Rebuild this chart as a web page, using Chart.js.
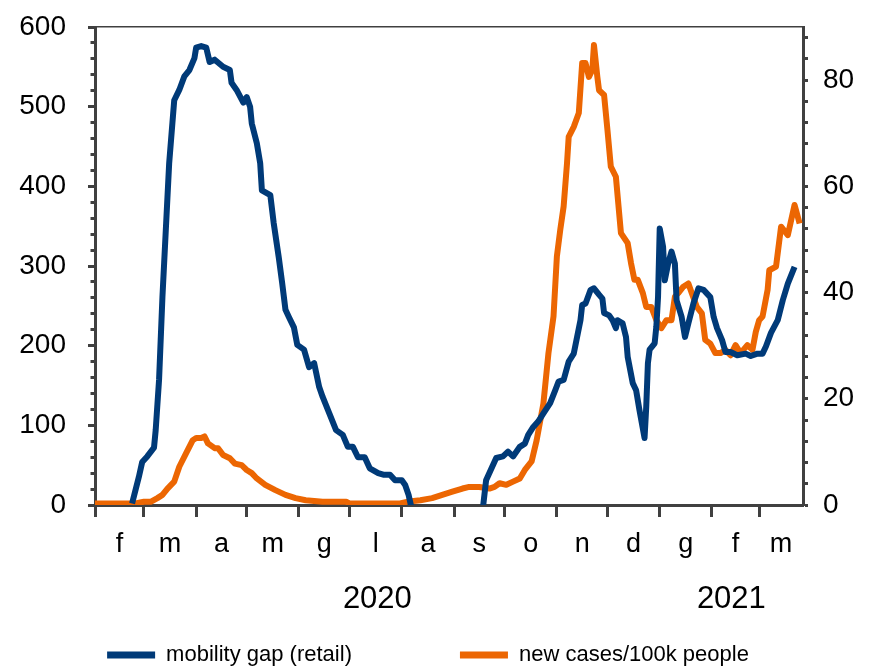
<!DOCTYPE html>
<html>
<head>
<meta charset="utf-8">
<title>Mobility gap and new cases</title>
<script src="https://cdn.jsdelivr.net/npm/chart.js@4/dist/chart.umd.min.js"></script>
<style>
  html, body { margin: 0; padding: 0; background: #ffffff; }
  #wrap { width: 871px; height: 671px; }
</style>
</head>
<body>
<div id="wrap"><canvas id="chart" width="871" height="671"></canvas></div>
<script>
// Day numbers are counted from 1 February 2020 (day 0).
const monthStarts = [0, 29, 60, 90, 121, 151, 182, 213, 243, 274, 304, 335, 366, 394];
const monthLabels = ['f', 'm', 'a', 'm', 'g', 'l', 'a', 's', 'o', 'n', 'd', 'g', 'f', 'm'];
const yearStarts = [0, 335];
const yearLabels = ['2020', '2021'];
const lastDay = 420;

const leftTicks = [0, 100, 200, 300, 400, 500, 600];
const rightTickLabels = [0, 20, 40, 60, 80];

// Mobility gap (retail), left axis. A null day breaks the line while the gap is below zero.
const mobilityDays = [
  22, 26, 28, 31, 35, 36, 38, 40, 42, 44, 47, 50, 53, 56, 59, 60, 63, 66, 68, 71,
  76, 80, 81, 84, 88, 90, 92, 93, 96, 98, 99, 104, 106, 109, 111, 113, 115, 118, 120, 124,
  127, 130, 133, 135, 139, 143, 147, 150, 153, 156, 160, 163, 168, 171, 175, 178, 182, 184, 186, 188,
  210,
  230, 232, 238, 242, 245, 248, 252, 255, 257, 260, 263, 266, 270, 273, 275, 278, 281, 284, 286, 288,
  289, 291, 294, 296, 299, 301, 302, 305, 307, 309, 310, 313, 315, 316, 319, 321, 323, 326, 327, 328,
  329, 332, 333, 334, 335, 337, 338, 340, 342, 344, 345, 348, 350, 352, 355, 358, 361, 365, 367, 369,
  372, 374, 377, 381, 386, 389, 393, 396, 398, 401, 405, 408, 411, 415
];
const mobilityGap = [
  2, 35, 54, 61, 72, 94, 157, 261, 345, 429, 508, 521, 538, 546, 561, 574, 576, 574, 556, 559,
  550, 546, 530, 521, 505, 512, 500, 479, 454, 429, 395, 389, 354, 311, 279, 245, 236, 223, 201, 195,
  173, 178, 148, 136, 115, 94, 88, 73, 73, 60, 60, 46, 40, 38, 38, 31, 31, 25, 13, -6,
  null,
  -6, 31, 59, 61, 67, 61, 73, 77, 88, 98, 105, 115, 128, 144, 155, 157, 180, 190, 211, 232,
  251, 253, 270, 272, 264, 259, 241, 238, 232, 222, 232, 228, 211, 186, 153, 144, 119, 84, 123, 178,
  195, 203, 224, 261, 347, 324, 282, 303, 318, 303, 257, 236, 211, 228, 253, 272, 270, 261, 236, 222,
  207, 192, 192, 188, 190, 187, 190, 190, 199, 216, 232, 257, 278, 299
];

// New cases per 100k people, right axis.
const casesDays = [
  0, 24, 29, 33, 37, 40, 43, 47, 50, 54, 58, 60, 63, 65, 67, 71, 73, 76, 80, 83,
  87, 90, 93, 96, 101, 107, 113, 119, 125, 135, 149, 151, 181, 185, 193, 200, 206, 212, 218, 222,
  228, 234, 237, 240, 244, 248, 252, 255, 259, 262, 266, 269, 272, 274, 276, 278, 280, 281, 284, 287,
  289, 291, 293, 295, 296, 298, 299, 302, 304, 306, 309, 312, 316, 318, 320, 322, 325, 327, 330, 333,
  336, 339, 342, 344, 346, 349, 352, 354, 357, 360, 362, 365, 368, 371, 374, 377, 380, 383, 387, 390,
  392, 394, 396, 399, 400, 404, 407, 411, 415, 418
];
const newCases = [
  0.3, 0.3, 0.6, 0.6, 1.3, 1.9, 3.1, 4.4, 7.2, 9.7, 12.2, 12.6, 12.6, 12.9, 11.6, 10.7, 10.7, 9.4, 8.8, 7.8,
  7.5, 6.6, 6.0, 5.0, 3.8, 2.8, 1.9, 1.3, 0.9, 0.6, 0.6, 0.3, 0.3, 0.6, 0.9, 1.3, 1.9, 2.5, 3.1, 3.4,
  3.4, 3.1, 3.4, 4.1, 3.8, 4.4, 5.0, 6.6, 8.2, 12.2, 19.1, 28.6, 35.5, 46.8, 51.8, 56.2, 64.3, 69.3, 71.2, 73.8,
  83.2, 83.2, 80.6, 81.9, 86.6, 80.6, 78.1, 77.2, 70.6, 63.7, 61.8, 51.2, 49.3, 45.5, 42.4, 42.4, 39.9, 37.3, 37.3, 34.8,
  33.3, 34.8, 34.8, 39.2, 39.9, 41.1, 41.7, 39.9, 37.3, 36.1, 31.1, 30.4, 28.6, 28.6, 29.2, 28.2, 30.1, 28.6, 30.1, 29.2,
  32.6, 34.8, 35.5, 40.5, 44.2, 44.9, 52.4, 50.8, 56.5, 53.0
];

const FONT = "'Liberation Sans Narrow', 'Liberation Sans', Arial, sans-serif";
const AXIS = '#404040';
const BLUE = '#003a78';
const ORANGE = '#ec6602';

// Label positions: middle of each visible month / year span.
const spanMiddles = starts => starts.map((s, i) => (s + (i + 1 < starts.length ? starts[i + 1] : lastDay)) / 2);
const monthMiddles = spanMiddles(monthStarts);
const yearMiddles = spanMiddles(yearStarts);
const everyStep = (max, step) => Array.from({ length: Math.floor(max / step) + 1 }, (_, i) => i * step);

const setTicks = values => scale => { scale.ticks = values.map(v => ({ value: v })); };
const points = (xs, ys) => xs.map((x, i) => ({ x: x, y: ys[i] }));

// Fixed box sizes for the axes; label overhang is not allowed to push the plot area.
const fixHeight = h => s => { s.height = h; s.paddingLeft = 0; s.paddingRight = 0; };
const fixWidth = w => s => { s.width = w; s.paddingTop = 0; s.paddingBottom = 0; };

// Wider gap after the first legend entry.
const legendGap = '\u2003\u2003\u2003\u2003';

new Chart(document.getElementById('chart'), {
  type: 'line',
  data: {
    datasets: [
      {
        label: 'mobility gap (retail)',
        data: points(mobilityDays, mobilityGap),
        xAxisID: 'x', yAxisID: 'y',
        borderColor: BLUE, backgroundColor: BLUE,
        borderWidth: 6, pointRadius: 0, tension: 0,
        borderJoinStyle: 'round', spanGaps: false
      },
      {
        label: 'new cases/100k people',
        data: points(casesDays, newCases),
        xAxisID: 'x', yAxisID: 'y2',
        borderColor: ORANGE, backgroundColor: ORANGE,
        borderWidth: 6, pointRadius: 0, tension: 0,
        borderJoinStyle: 'round'
      }
    ]
  },
  options: {
    responsive: false,
    animation: false,
    devicePixelRatio: 1,
    events: [],
    layout: { padding: { top: 27, right: 15, bottom: -5, left: 0 } },
    plugins: {
      tooltip: { enabled: false },
      legend: {
        position: 'bottom',
        labels: {
          font: { family: FONT, size: 22 },
          color: '#000000',
          boxWidth: 48,
          boxHeight: 7,
          padding: 20,
          generateLabels: chart => Chart.defaults.plugins.legend.labels.generateLabels(chart)
            .map((item, i) => Object.assign(item, {
              lineWidth: 0,
              text: i === 0 ? item.text + legendGap : item.text
            }))
        }
      }
    },
    scales: {
      x: {
        type: 'linear', position: 'bottom', weight: 0,
        min: 0, max: lastDay,
        afterBuildTicks: setTicks(monthStarts),
        ticks: { display: false },
        grid: { drawOnChartArea: false, tickLength: 12, tickWidth: 3, tickColor: AXIS },
        border: { display: true, color: AXIS, width: 3 },
        afterFit: fixHeight(12)
      },
      xm: {
        type: 'linear', position: 'bottom', weight: 1, display: true,
        min: 0, max: lastDay,
        afterBuildTicks: setTicks(monthMiddles),
        ticks: {
          autoSkip: false, maxRotation: 0, padding: 11, color: '#000000',
          font: { family: FONT, size: 27 },
          callback: (v, i) => monthLabels[i]
        },
        grid: { display: false, drawTicks: false },
        border: { display: false },
        afterFit: fixHeight(50)
      },
      xy: {
        type: 'linear', position: 'bottom', weight: 2, display: true,
        min: 0, max: lastDay,
        afterBuildTicks: setTicks(yearMiddles),
        ticks: {
          autoSkip: false, maxRotation: 0, padding: 14, color: '#000000',
          font: { family: FONT, size: 31 },
          callback: (v, i) => yearLabels[i]
        },
        grid: { display: false, drawTicks: false },
        border: { display: false },
        afterFit: fixHeight(57)
      },
      xt: {
        type: 'linear', position: 'top', display: true,
        min: 0, max: lastDay,
        ticks: { display: false },
        grid: { display: false, drawTicks: false },
        border: { display: true, color: AXIS, width: 1.5 },
        afterFit: fixHeight(0)
      },
      y: {
        type: 'linear', position: 'left', weight: 1,
        min: 0, max: 600,
        afterBuildTicks: setTicks(leftTicks),
        ticks: { autoSkip: false, padding: 22, color: '#000000', font: { family: FONT, size: 28 } },
        grid: { drawOnChartArea: false, tickLength: 7, tickWidth: 3, tickColor: AXIS },
        border: { display: true, color: AXIS, width: 3 },
        afterFit: fixWidth(95)
      },
      yMinor: {
        type: 'linear', position: 'left', weight: 0, display: true,
        min: 0, max: 600,
        afterBuildTicks: setTicks(everyStep(600, 20)),
        ticks: { display: false },
        grid: { drawOnChartArea: false, tickLength: 4.5, tickWidth: 3, tickColor: AXIS },
        border: { display: false },
        afterFit: fixWidth(0)
      },
      y2: {
        type: 'linear', position: 'right',
        min: 0, max: 90,
        afterBuildTicks: setTicks(everyStep(88, 4)),
        ticks: {
          autoSkip: false, padding: 15, color: '#000000', font: { family: FONT, size: 28 },
          callback: v => (rightTickLabels.includes(v) ? String(v) : '')
        },
        grid: { drawOnChartArea: false, tickLength: 5, tickWidth: 3, tickColor: AXIS },
        border: { display: true, color: AXIS, width: 3 },
        afterFit: fixWidth(53)
      }
    }
  }
});
</script>
</body>
</html>
